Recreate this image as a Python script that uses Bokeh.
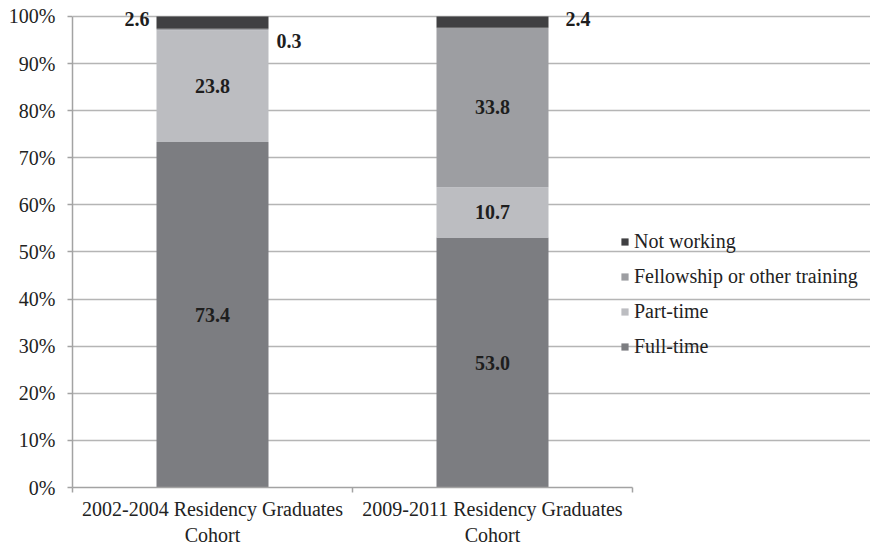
from bokeh.plotting import figure
from bokeh.models import (Range1d, FixedTicker, ColumnDataSource, Legend, LegendItem,
                          LabelSet)
from bokeh.embed import file_html
from bokeh.resources import INLINE

# ---- data ----
categories = ["2002-2004 Residency Graduates\nCohort", "2009-2011 Residency Graduates\nCohort"]
series = ["Full-time", "Part-time", "Fellowship or other training", "Not working"]
full_time = [73.4, 53.0]
part_time = [23.8, 10.7]
fellowship = [0.3, 33.8]
not_working = [2.6, 2.4]
y_ticks = [0, 10, 20, 30, 40, 50, 60, 70, 80, 90, 100]

colors = ["#7c7d81", "#bcbdc1", "#9d9ea2", "#404042"]
FONT = "'Liberation Serif', 'Times New Roman', serif"
FS = "20px"
TXT = "#222222"

W, H = 870, 548
LEFT, TOP, BOTTOM = 72, 10, 60
PX_PER_CAT = 280
PX_PER_PCT = 4.72

xpos = [0.5, 1.5]
keys = ["full", "part", "fellow", "notw"]
raw = [full_time, part_time, fellowship, not_working]
totals = [sum(r[i] for r in raw) for i in range(2)]
data = {"x": xpos}
for k, r in zip(keys, raw):
    data[k] = [r[i] / totals[i] * 100 for i in range(2)]
src = ColumnDataSource(data)

frame_w = W - LEFT
frame_h = H - TOP - BOTTOM
p = figure(width=W, height=H, output_backend="svg", toolbar_location=None,
           x_range=Range1d(0, frame_w / PX_PER_CAT),
           y_range=Range1d(0, frame_h / PX_PER_PCT),
           min_border_left=LEFT, min_border_right=0, min_border_top=TOP,
           min_border_bottom=BOTTOM)
p.outline_line_color = None
p.background_fill_color = "white"

rs = p.vbar_stack(keys, x="x", width=0.4, source=src, color=colors, line_color=None)

AX = "#a3a3a3"
# x axis: category labels at centres, tick marks at category boundaries
p.xaxis.ticker = FixedTicker(ticks=xpos, minor_ticks=[0, 1, 2])
p.xaxis.major_label_overrides = {x: c for x, c in zip(xpos, categories)}
p.xaxis.major_label_text_font = FONT
p.xaxis.major_label_text_font_size = FS
p.xaxis.major_label_text_color = TXT
p.xaxis.major_label_standoff = 5
p.xaxis.major_tick_in = 0
p.xaxis.major_tick_out = 0
p.xaxis.minor_tick_in = 0
p.xaxis.minor_tick_out = 5
p.xaxis.minor_tick_line_color = AX
p.xaxis.minor_tick_line_width = 1.5
p.xaxis.axis_line_color = AX
p.xaxis.axis_line_width = 1.5
p.xaxis.bounds = (0, 2)
p.xgrid.visible = False

p.yaxis.ticker = FixedTicker(ticks=y_ticks)
p.yaxis.major_label_overrides = {t: f"{t}%" for t in y_ticks}
p.yaxis.major_label_text_font = FONT
p.yaxis.major_label_text_font_size = FS
p.yaxis.major_label_text_color = TXT
p.yaxis.major_tick_in = 0
p.yaxis.major_tick_out = 5
p.yaxis.major_label_standoff = 12
p.yaxis.minor_tick_line_color = None
p.yaxis.axis_line_color = AX
p.yaxis.major_tick_line_color = AX
p.yaxis.axis_line_width = 1.5
p.yaxis.major_tick_line_width = 1.5
p.yaxis.bounds = (0, 100)
p.ygrid.ticker = FixedTicker(ticks=y_ticks)
p.ygrid.grid_line_color = "#b5b5b5"
p.ygrid.grid_line_width = 1.5
p.ygrid.bounds = (0, 2)

# inside labels (segment midpoints)
ins = {"x": [], "y": [], "t": []}
for i in range(2):
    cum = 0
    for k, r in zip(keys, raw):
        v = data[k][i]
        if r[i] >= 5:
            ins["x"].append(xpos[i]); ins["y"].append(cum + v / 2); ins["t"].append(f"{r[i]:.1f}")
        cum += v
p.add_layout(LabelSet(x="x", y="y", text="t", source=ColumnDataSource(ins),
                      text_font=FONT, text_font_size=FS, text_font_style="bold",
                      text_color="#1e1e1e", text_align="center", text_baseline="middle"))

# outside labels for small segments
fel_top = data["full"][0] + data["part"][0] + data["fellow"][0]
left_src = ColumnDataSource({"x": [xpos[0]], "y": [100], "t": [f"{not_working[0]:.1f}"]})
p.add_layout(LabelSet(x="x", y="y", text="t", source=left_src, x_offset=-63, y_offset=-3,
                      text_font=FONT, text_font_size=FS, text_font_style="bold",
                      text_color="#1e1e1e", text_align="right", text_baseline="middle"))
right_src = ColumnDataSource({"x": [xpos[0], xpos[1]], "y": [fel_top, 100],
                              "t": [f"{fellowship[0]:.1f}", f"{not_working[1]:.1f}"],
                              "dx": [64, 73], "dy": [-12, -3]})
p.add_layout(LabelSet(x="x", y="y", text="t", source=right_src, x_offset="dx", y_offset="dy",
                      text_font=FONT, text_font_size=FS, text_font_style="bold",
                      text_color="#1e1e1e", text_align="left", text_baseline="middle"))

# legend
items = [LegendItem(label=series[i], renderers=[rs[i]]) for i in [3, 2, 1, 0]]
legend = Legend(items=items, location=(548, 129), orientation="vertical",
                background_fill_alpha=0, border_line_alpha=0,
                label_text_font=FONT, label_text_font_size=FS, label_text_color=TXT,
                glyph_width=9, glyph_height=9, label_standoff=5, spacing=12,
                label_height=20, padding=0, margin=0)
p.add_layout(legend)

open("out.html", "w").write(file_html(p, INLINE))
